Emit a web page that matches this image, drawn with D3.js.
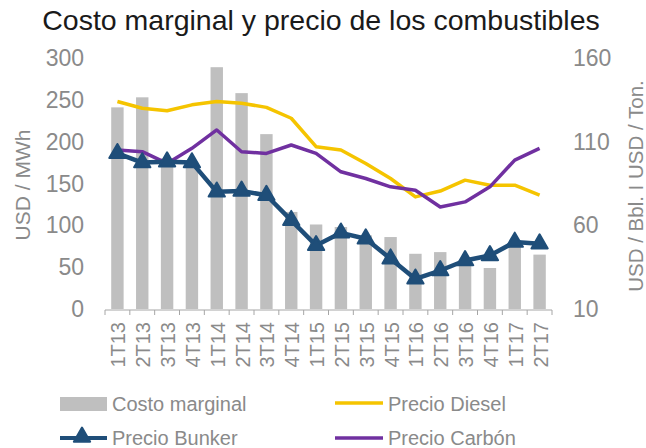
<!DOCTYPE html>
<html>
<head>
<meta charset="utf-8">
<script src="https://cdn.jsdelivr.net/npm/d3@7"></script>
<style>
  body { margin: 0; background: #fff; }
  text { font-family: "Liberation Sans", Arial, sans-serif; }
</style>
</head>
<body>
<script>
// quarters on the x axis
var quarters = ["1T13","2T13","3T13","4T13","1T14","2T14","3T14","4T14","1T15","2T15","3T15","4T15","1T16","2T16","3T16","4T16","1T17","2T17"];

// left axis, USD / MWh
var costoMarginal = [241, 253, 180, 175, 289, 258, 209, 116, 101, 98, 88, 86, 66, 68, 58, 49, 78, 65];

// right axis, USD / Bbl. and USD / Ton.
var precioDiesel = [134, 130, 128.5, 132, 134, 133, 130.5, 124, 107, 105, 97, 88, 77, 80.5, 87, 84, 84, 78];
var precioBunker = [103, 97.5, 98, 97.5, 80, 80.5, 78, 63, 48, 55.5, 52, 40, 28, 33, 39, 42, 50, 49];
var precioCarbon = [105, 104, 97, 106, 117, 104, 103, 108, 103, 92, 88, 83, 81, 71, 74, 83, 99, 106];

var leftTicks = [0, 50, 100, 150, 200, 250, 300];
var rightTicks = [10, 60, 110, 160];

var W = 646, H = 448;
var plotLeft = 105, plotRight = 552, plotTop = 58, plotBottom = 309;
var grey = "#8a8a8a";

var svg = d3.select("body").append("svg")
  .attr("width", W)
  .attr("height", H);

// title
svg.append("text")
  .attr("x", 321)
  .attr("y", 30)
  .attr("text-anchor", "middle")
  .style("font-size", "28.5px")
  .style("fill", "#1a1a1a")
  .text("Costo marginal y precio de los combustibles");

var x = d3.scaleBand()
  .domain(quarters)
  .range([plotLeft, plotRight])
  .paddingInner(0.5)
  .paddingOuter(0.25);

var yL = d3.scaleLinear().domain([0, 300]).range([plotBottom, plotTop]);
var yR = d3.scaleLinear().domain([10, 160]).range([plotBottom, plotTop]);

function cx(d) { return x(d) + x.bandwidth() / 2; }

// bars
svg.selectAll(".bar")
  .data(costoMarginal)
  .enter()
  .append("rect")
  .attr("class", "bar")
  .attr("x", function(d, i){ return x(quarters[i]); })
  .attr("width", x.bandwidth())
  .attr("y", function(d){ return yL(d); })
  .attr("height", function(d){ return yL(0) - yL(d); })
  .style("fill", "#bfbfbf");

// x axis line and tick marks between categories
var ax = svg.append("g").attr("class", "xaxis");
ax.append("line")
  .attr("x1", plotLeft).attr("x2", plotRight)
  .attr("y1", plotBottom + 1).attr("y2", plotBottom + 1)
  .style("stroke", "#a6a6a6").style("stroke-width", 1);
var edges = quarters.map(function(q){ return x(q) - (x.step() - x.bandwidth()) / 2; });
edges.push(plotRight);
ax.selectAll(".tk")
  .data(edges)
  .enter()
  .append("line")
  .attr("x1", function(d){ return d; })
  .attr("x2", function(d){ return d; })
  .attr("y1", plotBottom + 1)
  .attr("y2", plotBottom + 6)
  .style("stroke", "#a6a6a6");

ax.selectAll(".xl")
  .data(quarters)
  .enter()
  .append("text")
  .attr("transform", function(d){ return "translate(" + (cx(d) + 1) + "," + 322 + ") rotate(-90)"; })
  .attr("text-anchor", "end")
  .attr("dy", "0.35em")
  .style("font-size", "20px")
  .style("fill", grey)
  .text(function(d){ return d; });

// left ticks
svg.selectAll(".yl")
  .data(leftTicks)
  .enter()
  .append("text")
  .attr("x", 84)
  .attr("y", function(d){ return yL(d); })
  .attr("dy", "0.35em")
  .attr("text-anchor", "end")
  .style("font-size", "23px")
  .style("fill", grey)
  .text(function(d){ return d; });

// right ticks
svg.selectAll(".yr")
  .data(rightTicks)
  .enter()
  .append("text")
  .attr("x", 573)
  .attr("y", function(d){ return yR(d); })
  .attr("dy", "0.35em")
  .style("font-size", "23px")
  .style("fill", grey)
  .text(function(d){ return d; });

// axis titles
svg.append("text")
  .attr("transform", "translate(30,185) rotate(-90)")
  .attr("text-anchor", "middle")
  .style("font-size", "21px")
  .style("fill", grey)
  .text("USD / MWh");

svg.append("text")
  .attr("transform", "translate(643,186) rotate(-90)")
  .attr("text-anchor", "middle")
  .style("font-size", "20.5px")
  .style("fill", grey)
  .text("USD / Bbl. I USD / Ton.");

// lines
var line = d3.line()
  .x(function(d, i){ return cx(quarters[i]); })
  .y(function(d){ return yR(d); });

svg.append("path")
  .datum(precioDiesel)
  .attr("d", line)
  .style("fill", "none")
  .style("stroke", "#f5c400")
  .style("stroke-width", 3.5)
  .style("stroke-linejoin", "round");

svg.append("path")
  .datum(precioCarbon)
  .attr("d", line)
  .style("fill", "none")
  .style("stroke", "#7030a0")
  .style("stroke-width", 3.5)
  .style("stroke-linejoin", "round");

svg.append("path")
  .datum(precioBunker)
  .attr("d", line)
  .style("fill", "none")
  .style("stroke", "#1f4e79")
  .style("stroke-width", 4.5)
  .style("stroke-linejoin", "round");

var tri = d3.symbol().type(d3.symbolTriangle).size(115);
svg.selectAll(".mk")
  .data(precioBunker)
  .enter()
  .append("path")
  .attr("class", "mk")
  .attr("transform", function(d, i){ return "translate(" + cx(quarters[i]) + "," + yR(d) + ")"; })
  .attr("d", tri)
  .style("fill", "#1f4e79")
  .style("stroke", "#1f4e79")
  .style("stroke-width", 2)
  .style("stroke-linejoin", "round");

// legend
var lg = svg.append("g").attr("class", "legend");
lg.append("rect")
  .attr("x", 60).attr("y", 397).attr("width", 47).attr("height", 14)
  .style("fill", "#bfbfbf");
lg.append("line")
  .attr("x1", 335).attr("x2", 383).attr("y1", 403).attr("y2", 403)
  .style("stroke", "#f5c400").style("stroke-width", 3.5);
lg.append("line")
  .attr("x1", 60).attr("x2", 107).attr("y1", 438).attr("y2", 438)
  .style("stroke", "#1f4e79").style("stroke-width", 4);
lg.append("path")
  .attr("transform", "translate(82,437)")
  .attr("d", tri)
  .style("fill", "#1f4e79").style("stroke", "#1f4e79").style("stroke-width", 2)
  .style("stroke-linejoin", "round");
lg.append("line")
  .attr("x1", 335).attr("x2", 383).attr("y1", 438).attr("y2", 438)
  .style("stroke", "#7030a0").style("stroke-width", 3.5);

var legendLabels = [
  { t: "Costo marginal", x: 112, y: 404 },
  { t: "Precio Diesel", x: 388, y: 404 },
  { t: "Precio Bunker", x: 112, y: 438 },
  { t: "Precio Carbón", x: 388, y: 438 }
];
lg.selectAll(".lt")
  .data(legendLabels)
  .enter()
  .append("text")
  .attr("x", function(d){ return d.x; })
  .attr("y", function(d){ return d.y; })
  .attr("dy", "0.35em")
  .style("font-size", "20px")
  .style("fill", grey)
  .text(function(d){ return d.t; });
</script>
</body>
</html>
